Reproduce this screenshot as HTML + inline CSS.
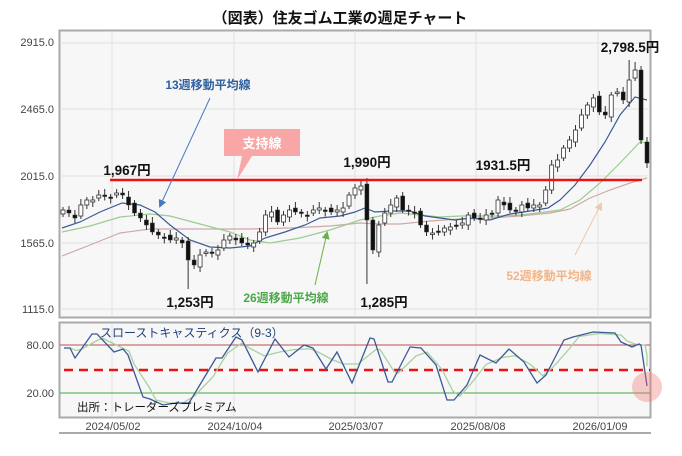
<!DOCTYPE html>
<html><head><meta charset="utf-8"><style>
body{margin:0;background:#fff;width:682px;height:451px;overflow:hidden;font-family:"Liberation Sans","Noto Sans CJK JP",sans-serif}
</style></head><body>
<svg id="s" width="682" height="451" xmlns="http://www.w3.org/2000/svg" font-family="Liberation Sans, Noto Sans CJK JP, sans-serif">
<text x="340" y="23" text-anchor="middle" font-size="15" font-weight="bold" fill="#111">（図表）住友ゴム工業の週足チャート</text>
<rect x="59.5" y="30.5" width="591" height="287" fill="#f7f7f7" stroke="#aaa" stroke-width="2"/>
<g stroke="#e2e2e2" stroke-width="1">
<line x1="60" x2="650" y1="43" y2="43"/><line x1="60" x2="650" y1="109" y2="109"/><line x1="60" x2="650" y1="176" y2="176"/><line x1="60" x2="650" y1="243" y2="243"/><line x1="60" x2="650" y1="309" y2="309"/>
<line x1="112" x2="112" y1="31" y2="317"/><line x1="234" x2="234" y1="31" y2="317"/><line x1="355" x2="355" y1="31" y2="317"/><line x1="476" x2="476" y1="31" y2="317"/><line x1="598" x2="598" y1="31" y2="317"/>
</g>
<g font-size="11" fill="#444" text-anchor="end">
<text x="54" y="46">2915.0</text><text x="54" y="113">2465.0</text><text x="54" y="180">2015.0</text><text x="54" y="247">1565.0</text><text x="54" y="313">1115.0</text>
</g>
<g id="ma" fill="none" stroke-width="1.2"></g>
<g id="cd"></g>
<line x1="110" x2="642" y1="180" y2="180" stroke="#ee1111" stroke-width="2.5"/>
<polygon points="224,129 300,129 300,156 252,156 237,180 242,156 224,156" fill="#f8a6a6"/>
<text x="262" y="148" text-anchor="middle" font-size="13" fill="#fff" font-weight="bold">支持線</text>
<g font-size="13.5" fill="#111" font-weight="bold" text-anchor="middle">
<text x="127" y="175">1,967円</text><text x="367" y="167">1,990円</text><text x="503" y="170">1931.5円</text><text x="630" y="52">2,798.5円</text><text x="190" y="307">1,253円</text><text x="384" y="307">1,285円</text>
</g>
<text x="208" y="89" text-anchor="middle" font-size="12" fill="#2e5f9e" font-weight="bold">13週移動平均線</text>
<text x="286" y="302" text-anchor="middle" font-size="12" fill="#4aa84a" font-weight="bold">26週移動平均線</text>
<text x="549" y="280" text-anchor="middle" font-size="12" fill="#f2b489" font-weight="bold">52週移動平均線</text>
<defs>
<marker id="a1" markerWidth="8" markerHeight="8" refX="6" refY="4" orient="auto"><path d="M0,0 L8,4 L0,8z" fill="#4a78c0"/></marker>
<marker id="a2" markerWidth="8" markerHeight="8" refX="6" refY="4" orient="auto"><path d="M0,0 L8,4 L0,8z" fill="#6ab04a"/></marker>
<marker id="a3" markerWidth="8" markerHeight="8" refX="6" refY="4" orient="auto"><path d="M0,0 L8,4 L0,8z" fill="#efc8a8"/></marker>
</defs>
<line x1="210" y1="98" x2="160" y2="206" stroke="#4a78c0" marker-end="url(#a1)"/>
<line x1="315" y1="285" x2="327" y2="233" stroke="#6ab04a" marker-end="url(#a2)"/>
<line x1="575" y1="255" x2="601" y2="204" stroke="#efc8a8" marker-end="url(#a3)"/>

<rect x="59.5" y="322.5" width="591" height="95" fill="#f7f7f7" stroke="#aaa" stroke-width="2"/>
<g stroke="#e2e2e2"><line x1="112" x2="112" y1="323" y2="417"/><line x1="234" x2="234" y1="323" y2="417"/><line x1="355" x2="355" y1="323" y2="417"/><line x1="476" x2="476" y1="323" y2="417"/><line x1="598" x2="598" y1="323" y2="417"/></g>
<line x1="60" x2="650" y1="345" y2="345" stroke="#b85050" stroke-width="1"/>
<line x1="60" x2="650" y1="393" y2="393" stroke="#44aa44" stroke-width="1"/>
<line x1="64" x2="650" y1="370" y2="370" stroke="#ee1111" stroke-width="2.5" stroke-dasharray="9,6"/>
<g font-size="11" fill="#444" text-anchor="end"><text x="54" y="349">80.00</text><text x="54" y="397">20.00</text></g>
<g id="st" fill="none"></g>
<circle cx="647" cy="387" r="15" fill="rgba(240,110,110,0.35)"/>
<text x="100" y="337" font-size="12" fill="#1f3f7a">スローストキャスティクス（9-3）</text>
<text x="77" y="411" font-size="11.5" fill="#111">出所：トレーダーズプレミアム</text>
<line x1="59" x2="651" y1="433" y2="433" stroke="#555" stroke-width="1"/>
<g font-size="11" fill="#444" text-anchor="middle"><text x="113" y="430">2024/05/02</text><text x="235" y="430">2024/10/04</text><text x="356" y="430">2025/03/07</text><text x="478" y="430">2025/08/08</text><text x="600" y="430">2026/01/09</text></g>
</svg>
<script>
var NS="http://www.w3.org/2000/svg",s=document.getElementById('s');
function el(p,t,a){var e=document.createElementNS(NS,t);for(var k in a)e.setAttribute(k,a[k]);p.appendChild(e);return e;}
function pl(p,pts,c,w){el(p,'polyline',{points:pts.map(function(q){return q.join(',')}).join(' '),stroke:c,'stroke-width':w||1.2,fill:'none'});}
var ma=document.getElementById('ma');
pl(ma,[[62,256],[90,245],[120,233],[150,229],[180,229],[210,229],[250,229],[290,228],[330,226],[360,223],[380,224],[400,224],[430,221],[460,219],[490,218],[520,216],[550,213],[570,209],[590,198],[610,190],[630,183],[647,178]],'#d0a8a8');
pl(ma,[[62,232],[90,226],[120,217],[150,214],[170,216],[200,224],[230,232],[250,240],[270,243],[300,238],[330,230],[360,220],[380,216],[400,213],[420,215],[440,217],[460,216],[480,216],[500,216],[520,215],[545,212],[560,210],[580,200],[600,183],[620,163],[640,142],[647,143]],'#9ccc94');
pl(ma,[[62,228],[80,222],[100,212],[122,203],[140,205],[155,212],[170,225],[190,240],[210,247],[230,248],[250,246],[265,238],[285,232],[305,225],[320,218],[340,216],[355,212],[365,208],[375,212],[390,211],[410,211],[425,216],[440,218],[455,220],[470,218],[490,220],[510,214],[530,211],[548,208],[560,200],[575,185],[590,165],[605,142],[620,115],[635,97],[647,100]],'#3a5a96');
var c=[210,213,218,205,200,200,195,195,197,193,195,205,213,218,225,232,235,237,240,238,243,260,265,255,252,253,250,240,236,240,243,245,243,232,215,212,222,215,210,212,213,215,210,208,210,212,210,208,195,188,186,220,250,225,213,205,198,210,210,213,225,232,233,232,228,227,225,223,215,218,218,215,213,200,205,210,210,205,208,205,205,190,165,160,148,140,130,115,105,98,112,115,95,92,100,80,70,140,163];
var cd=document.getElementById('cd'),n=c.length,dx=(647-63)/(n-1),o=c[0]+4;
for(var i=0;i<n;i++){var x=63+i*dx,op=(i==0?o:c[i-1]+ (i%3-1)*2),cl=c[i];
var t=Math.min(op,cl),b=Math.max(op,cl);if(b-t<1.5){b=t+1.5;}
var hi=t-3-(i%4),lo=b+3+(i%3);
if(i==21)lo=289;if(i==51){lo=284;}if(i==50)hi=180;if(i==95)hi=60;if(i==96)hi=62;
el(cd,'line',{x1:x,x2:x,y1:hi,y2:lo,stroke:'#333','stroke-width':1});
el(cd,'rect',{x:x-2,y:t,width:4,height:b-t,fill:cl<op?'#fff':'#111',stroke:'#333','stroke-width':cl<op?0.8:0.5});}
var st=document.getElementById('st');
var k=[[64,348],[70,348],[75,358],[92,334],[97,334],[114,352],[123,349],[128,355],[143,397],[150,399],[163,405],[176,403],[189,403],[207,373],[216,358],[222,358],[236,337],[242,340],[258,372],[275,339],[289,357],[304,345],[313,348],[326,369],[337,352],[352,383],[370,338],[374,339],[388,382],[392,382],[410,347],[421,348],[436,365],[447,400],[454,400],[467,385],[480,355],[496,363],[509,349],[524,362],[537,383],[546,375],[564,340],[573,337],[593,332],[615,333],[621,342],[632,347],[639,344],[641,345],[647,386]];
var d=[];for(var j=0;j<k.length;j++){var a=k[Math.max(0,j-1)],b2=k[j],cc=k[Math.min(k.length-1,j+1)];d.push([Math.min(647,b2[0]+6),(a[1]+2*b2[1]+cc[1])/4]);}
d[d.length-1]=[647,366];
pl(st,d,'#a8d0a0',1.3);pl(st,k,'#3a5a96',1.3);
</script>
</body></html>
